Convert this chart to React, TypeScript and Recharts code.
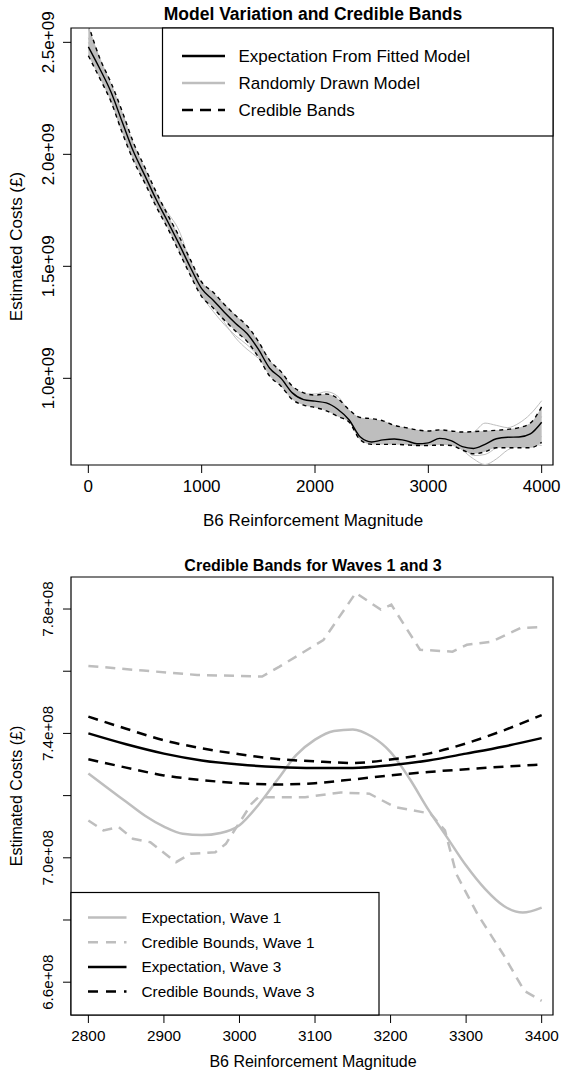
import React from "react"
import { ComposedChart, Line, Area, XAxis, YAxis, ReferenceArea } from "recharts"

const FONT = "'Liberation Sans', Arial, Helvetica, sans-serif"
const GRAY = "#bebebe"

// ---- top panel: values in units of 1e9 pounds ----
const topX = [
  0, 100, 200, 300, 400, 500, 600, 700, 800, 900, 1000, 1100, 1200, 1300, 1400, 1500, 1600, 1700, 1800, 1900, 2000,
  2100, 2200, 2300, 2400, 2500, 2600, 2700, 2800, 2900, 3000, 3100, 3200, 3300, 3400, 3500, 3600, 3700, 3800, 3900, 4000,
]
const topExpectation = [
  2.48, 2.383, 2.278, 2.143, 2.01, 1.904, 1.797, 1.7, 1.6, 1.496, 1.4, 1.35, 1.295, 1.245, 1.2, 1.13, 1.045, 1.0, 0.935,
  0.905, 0.898, 0.89, 0.862, 0.815, 0.738, 0.716, 0.725, 0.729, 0.722, 0.708, 0.712, 0.732, 0.722, 0.695, 0.687, 0.705,
  0.73, 0.737, 0.738, 0.752, 0.804,
]
const topUpper = [
  2.58, 2.43, 2.32, 2.19, 2.05, 1.94, 1.83, 1.73, 1.635, 1.53, 1.43, 1.385, 1.33, 1.28, 1.235, 1.165, 1.08, 1.03, 0.965,
  0.935, 0.925, 0.93, 0.91, 0.86, 0.825, 0.82, 0.81, 0.79, 0.78, 0.77, 0.765, 0.77, 0.765, 0.76, 0.762, 0.765, 0.768,
  0.772, 0.78, 0.8, 0.873,
]
const topLower = [
  2.44, 2.34, 2.235, 2.095, 1.97, 1.87, 1.765, 1.67, 1.565, 1.46, 1.365, 1.315, 1.26, 1.21, 1.165, 1.095, 1.01, 0.965,
  0.905, 0.88, 0.87, 0.855, 0.83, 0.805, 0.725, 0.705, 0.705, 0.705, 0.703, 0.7, 0.7, 0.702, 0.7, 0.68, 0.663, 0.672,
  0.69, 0.69, 0.69, 0.69, 0.714,
]
const drawA = [
  2.5, 2.39, 2.25, 2.1, 2.02, 1.91, 1.8, 1.7, 1.6, 1.5, 1.4, 1.33, 1.25, 1.18, 1.13, 1.09, 1.04, 0.99, 0.93, 0.9, 0.89,
  0.88, 0.86, 0.81, 0.75, 0.72, 0.72, 0.725, 0.72, 0.71, 0.71, 0.73, 0.72, 0.68, 0.64, 0.615, 0.64, 0.68, 0.7, 0.72, 0.74,
]
const drawB = [
  2.56, 2.43, 2.31, 2.18, 2.04, 1.93, 1.82, 1.74, 1.66, 1.52, 1.42, 1.37, 1.33, 1.28, 1.22, 1.16, 1.08, 1.02, 0.96, 0.93,
  0.93, 0.94, 0.92, 0.85, 0.8, 0.8, 0.79, 0.775, 0.765, 0.76, 0.76, 0.765, 0.76, 0.75, 0.76, 0.8, 0.79, 0.78, 0.8, 0.84,
  0.9,
]
const drawC = [
  2.52, 2.4, 2.29, 2.16, 2.03, 1.92, 1.81, 1.71, 1.61, 1.51, 1.41, 1.35, 1.3, 1.25, 1.2, 1.14, 1.06, 1.0, 0.94, 0.91,
  0.91, 0.91, 0.88, 0.83, 0.77, 0.74, 0.74, 0.745, 0.74, 0.735, 0.735, 0.75, 0.745, 0.7, 0.655, 0.66, 0.69, 0.71, 0.72,
  0.71, 0.7,
]
const drawD = [
  2.47, 2.37, 2.27, 2.14, 2.01, 1.9, 1.79, 1.69, 1.58, 1.47, 1.37, 1.3, 1.24, 1.19, 1.15, 1.1, 1.03, 0.98, 0.92, 0.885,
  0.875, 0.865, 0.845, 0.81, 0.73, 0.71, 0.715, 0.715, 0.71, 0.7, 0.705, 0.725, 0.715, 0.7, 0.7, 0.74, 0.765, 0.755,
  0.745, 0.76, 0.83,
]
const topXTicks = [0, 1000, 2000, 3000, 4000]
const topYTicks = [1.0, 1.5, 2.0, 2.5]

// ---- bottom panel: values in units of 1e8 pounds ----
const wave3X = [2800, 2850, 2900, 2950, 3000, 3050, 3100, 3150, 3200, 3250, 3300, 3350, 3400]
const wave3Expectation = [7.4, 7.365, 7.335, 7.313, 7.3, 7.292, 7.289, 7.289, 7.298, 7.313, 7.335, 7.358, 7.385]
const wave3Upper = [7.454, 7.415, 7.378, 7.352, 7.333, 7.318, 7.31, 7.305, 7.316, 7.335, 7.368, 7.41, 7.459]
const wave3Lower = [7.317, 7.29, 7.265, 7.25, 7.24, 7.236, 7.24, 7.252, 7.265, 7.276, 7.285, 7.293, 7.3]

const wave1X = [
  2800, 2825, 2850, 2875, 2900, 2925, 2950, 2975, 3000, 3025, 3050, 3075, 3100, 3125, 3150, 3175, 3200, 3225, 3250, 3275,
  3300, 3325, 3350, 3375, 3400,
]
const wave1Expectation = [
  7.271, 7.225, 7.18, 7.135, 7.1, 7.077, 7.073, 7.08, 7.105, 7.17, 7.25, 7.33, 7.38, 7.408, 7.413, 7.39, 7.34, 7.255,
  7.155, 7.065, 6.975, 6.9, 6.845, 6.824, 6.84,
]
const wave1UpperX = [2800, 2873, 2944, 3030, 3053, 3111, 3154, 3187, 3201, 3239, 3282, 3301, 3334, 3372, 3400]
const wave1Upper = [7.617, 7.602, 7.588, 7.583, 7.615, 7.7, 7.852, 7.798, 7.814, 7.669, 7.663, 7.685, 7.695, 7.739, 7.742]
const wave1LowerX = [
  2800, 2820, 2840, 2859, 2882, 2916, 2935, 2968, 2982, 3016, 3025, 3087, 3134, 3172, 3206, 3253, 3272, 3287, 3315, 3349,
  3377, 3400,
]
const wave1Lower = [
  7.12, 7.088, 7.099, 7.061, 7.05, 6.986, 7.013, 7.018, 7.045, 7.174, 7.195, 7.195, 7.21, 7.206, 7.163, 7.142, 7.088,
  6.948, 6.819, 6.69, 6.572, 6.54,
]
const bottomXTicks = [2800, 2900, 3000, 3100, 3200, 3300, 3400]
const bottomYTicks = [6.6, 6.8, 7.0, 7.2, 7.4, 7.6, 7.8]
const bottomYLabelled = [6.6, 7.0, 7.4, 7.8]

const topLegend = [
  { label: "Expectation From Fitted Model", color: "#000", dash: undefined },
  { label: "Randomly Drawn Model", color: GRAY, dash: undefined },
  { label: "Credible Bands", color: "#000", dash: "11 7" },
]
const bottomLegend = [
  { label: "Expectation, Wave 1", color: GRAY, dash: undefined },
  { label: "Credible Bounds, Wave 1", color: GRAY, dash: "10 8" },
  { label: "Expectation, Wave 3", color: "#000", dash: undefined },
  { label: "Credible Bounds, Wave 3", color: "#000", dash: "10 8" },
]

const topData = topX.map((x, i) => ({
  x,
  e: topExpectation[i],
  hi: topUpper[i],
  lo: topLower[i],
  band: [topLower[i], topUpper[i]],
  a: drawA[i],
  b: drawB[i],
  c: drawC[i],
  d: drawD[i],
}))

const pairs = (xs: number[], ys: number[]) => xs.map((x, i) => ({ x, y: ys[i] }))

const XTick = ({ x, y, payload, fontSize }: any) => (
  <text x={x} y={y} dy="0.71em" textAnchor="middle" fontSize={fontSize} fontFamily={FONT} fill="#000">
    {payload.value}
  </text>
)

const YTick = ({ x, y, payload, fontSize, suffix, show }: any) => {
  if (show && !show.includes(payload.value)) return <g />
  return (
    <text
      x={x}
      y={y}
      transform={`rotate(-90 ${x} ${y})`}
      textAnchor="middle"
      fontSize={fontSize}
      fontFamily={FONT}
      fill="#000"
    >
      {payload.value.toFixed(1) + suffix}
    </text>
  )
}

const TopChart = () => (
  <ComposedChart width={563} height={540} data={topData} margin={{ top: 28, right: 10, bottom: 35, left: 21 }}>
    <XAxis
      type="number"
      dataKey="x"
      domain={[-153, 4100]}
      ticks={topXTicks}
      interval={0}
      allowDataOverflow
      height={40}
      axisLine={false}
      tickSize={8}
      tickMargin={7}
      tickLine={{ stroke: "#000" }}
      tick={(p: any) => <XTick {...p} fontSize={17} />}
    />
    <YAxis
      type="number"
      domain={[0.613, 2.564]}
      ticks={topYTicks}
      interval={0}
      allowDataOverflow
      width={50}
      axisLine={false}
      tickSize={8}
      tickMargin={9}
      tickLine={{ stroke: "#000" }}
      tick={(p: any) => <YTick {...p} fontSize={17} suffix="e+09" />}
    />
    <Area type="monotone" dataKey="band" stroke="none" fill={GRAY} fillOpacity={1} isAnimationActive={false} />
    {["a", "b", "c", "d"].map((k) => (
      <Line key={k} type="monotone" dataKey={k} stroke={GRAY} strokeWidth={1} dot={false} activeDot={false} isAnimationActive={false} />
    ))}
    <Line type="monotone" dataKey="e" stroke="#000" strokeWidth={1.4} dot={false} activeDot={false} isAnimationActive={false} />
    <Line type="monotone" dataKey="hi" stroke="#000" strokeWidth={1.4} strokeDasharray="4 4" dot={false} activeDot={false} isAnimationActive={false} />
    <Line type="monotone" dataKey="lo" stroke="#000" strokeWidth={1.4} strokeDasharray="4 4" dot={false} activeDot={false} isAnimationActive={false} />
    <ReferenceArea x1={-153} x2={4100} y1={0.613} y2={2.564} fill="none" stroke="#000" strokeWidth={1.2} ifOverflow="visible" />
  </ComposedChart>
)

const BottomChart = () => (
  <ComposedChart width={563} height={539} margin={{ top: 37, right: 10, bottom: 24, left: 21 }}>
    <XAxis
      type="number"
      dataKey="x"
      domain={[2777, 3415]}
      ticks={bottomXTicks}
      interval={0}
      allowDataOverflow
      height={40}
      axisLine={false}
      tickSize={8}
      tickMargin={7}
      tickLine={{ stroke: "#000" }}
      tick={(p: any) => <XTick {...p} fontSize={15.3} />}
    />
    <YAxis
      type="number"
      domain={[6.4945, 7.903]}
      ticks={bottomYTicks}
      interval={0}
      allowDataOverflow
      width={50}
      axisLine={false}
      tickSize={8}
      tickMargin={9.5}
      tickLine={{ stroke: "#000" }}
      tick={(p: any) => <YTick {...p} fontSize={15.2} suffix="e+08" show={bottomYLabelled} />}
    />
    <Line data={pairs(wave1X, wave1Expectation)} type="monotone" dataKey="y" stroke={GRAY} strokeWidth={2.5} dot={false} activeDot={false} isAnimationActive={false} />
    <Line data={pairs(wave1UpperX, wave1Upper)} type="linear" dataKey="y" stroke={GRAY} strokeWidth={2.5} strokeDasharray="10 7" dot={false} activeDot={false} isAnimationActive={false} />
    <Line data={pairs(wave1LowerX, wave1Lower)} type="linear" dataKey="y" stroke={GRAY} strokeWidth={2.5} strokeDasharray="10 7" dot={false} activeDot={false} isAnimationActive={false} />
    <Line data={pairs(wave3X, wave3Expectation)} type="monotone" dataKey="y" stroke="#000" strokeWidth={2.5} dot={false} activeDot={false} isAnimationActive={false} />
    <Line data={pairs(wave3X, wave3Upper)} type="monotone" dataKey="y" stroke="#000" strokeWidth={2.5} strokeDasharray="10 7" dot={false} activeDot={false} isAnimationActive={false} />
    <Line data={pairs(wave3X, wave3Lower)} type="monotone" dataKey="y" stroke="#000" strokeWidth={2.5} strokeDasharray="10 7" dot={false} activeDot={false} isAnimationActive={false} />
    <ReferenceArea x1={2777} x2={3415} y1={6.4945} y2={7.903} fill="none" stroke="#000" strokeWidth={1.2} ifOverflow="visible" />
  </ComposedChart>
)

// titles, axis labels and legends drawn on top of both charts
const Overlay = () => (
  <svg width={563} height={1079} style={{ position: "absolute", left: 0, top: 0 }} fontFamily={FONT}>
    <text x={313} y={19.5} textAnchor="middle" fontSize={17.5} fontWeight="bold">
      Model Variation and Credible Bands
    </text>
    <text x={313} y={526} textAnchor="middle" fontSize={17}>
      B6 Reinforcement Magnitude
    </text>
    <text x={22} y={246.5} transform="rotate(-90 22 246.5)" textAnchor="middle" fontSize={17}>
      Estimated Costs (£)
    </text>
    <rect x={162.5} y={28} width={390.5} height={108} fill="#fff" stroke="#000" strokeWidth={1.2} />
    {topLegend.map((item, i) => (
      <g key={item.label}>
        <line x1={182} x2={225} y1={56 + i * 27} y2={56 + i * 27} stroke={item.color} strokeWidth={2.5} strokeDasharray={item.dash} />
        <text x={238.5} y={62 + i * 27} fontSize={17}>
          {item.label}
        </text>
      </g>
    ))}

    <text x={313} y={571} textAnchor="middle" fontSize={16} fontWeight="bold">
      Credible Bands for Waves 1 and 3
    </text>
    <text x={313} y={1067} textAnchor="middle" fontSize={16}>
      B6 Reinforcement Magnitude
    </text>
    <text x={21.5} y={796} transform="rotate(-90 21.5 796)" textAnchor="middle" fontSize={16}>
      Estimated Costs (£)
    </text>
    <rect x={71} y={892.5} width={308} height={122.5} fill="#fff" stroke="#000" strokeWidth={1.2} />
    {bottomLegend.map((item, i) => (
      <g key={item.label}>
        <line x1={88} x2={126.5} y1={917.5 + i * 24.7} y2={917.5 + i * 24.7} stroke={item.color} strokeWidth={2.5} strokeDasharray={item.dash} />
        <text x={141.5} y={923 + i * 24.7} fontSize={15.3}>
          {item.label}
        </text>
      </g>
    ))}
  </svg>
)

export default function App() {
  return (
    <div style={{ position: "absolute", left: 0, top: 0, width: 563, height: 1079, background: "#fff" }}>
      <div style={{ position: "absolute", left: 0, top: 0 }}>
        <TopChart />
      </div>
      <div style={{ position: "absolute", left: 0, top: 540 }}>
        <BottomChart />
      </div>
      <Overlay />
    </div>
  )
}
